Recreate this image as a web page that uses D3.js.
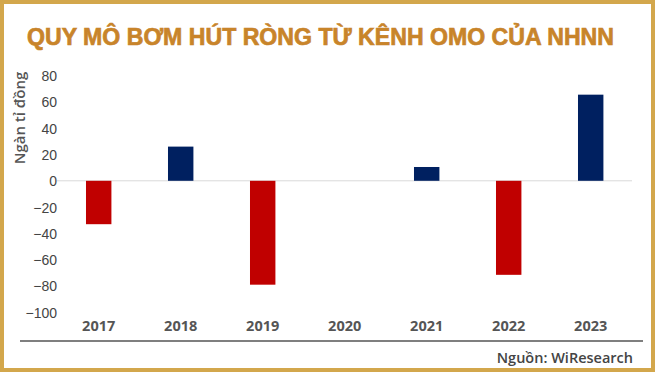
<!DOCTYPE html>
<html><head><meta charset="utf-8">
<script src="https://cdn.jsdelivr.net/npm/d3@7"></script>
<style>body{margin:0;background:#fff}svg{display:block}</style>
</head><body>
<script>
const categories = ["2017","2018","2019","2020","2021","2022","2023"];
const values = [-33, 26, -79, 0, 10.5, -71.5, 65.5];
const yTicks = [80,60,40,20,0,-20,-40,-60,-80,-100];
const title = "QUY MÔ BƠM HÚT RÒNG TỪ KÊNH OMO CỦA NHNN";
const yTitle = "Ngàn tỉ đồng";
const source = "Nguồn: WiResearch";

const W = 655, H = 372;
const svg = d3.select("body").append("svg").attr("width", W).attr("height", H);

svg.append("rect").attr("x",0).attr("y",0).attr("width",W).attr("height",H).attr("fill","#fff");
svg.append("rect").attr("x",2).attr("y",2).attr("width",W-4).attr("height",H-4)
  .attr("fill","none").attr("stroke","#D3A74C").attr("stroke-width",4);

svg.append("text").attr("x",27).attr("y",45).text(title)
  .attr("font-family","'Liberation Sans Narrow','Liberation Sans',sans-serif")
  .attr("font-weight","bold").attr("font-size",23.5).attr("fill","#C8842A")
  .attr("stroke","#C8842A").attr("stroke-width",0.7)
  .attr("textLength",587).attr("lengthAdjust","spacingAndGlyphs");

const x = d3.scaleBand().domain(categories).range([57.7, 631.7]).paddingInner(0.69).paddingOuter(0.345);
const y = d3.scaleLinear().domain([-100, 80]).range([312.3, 75.6]);

// zero line
svg.append("line").attr("x1",57).attr("x2",632).attr("y1",y(0)).attr("y2",y(0))
  .attr("stroke","#D9D9D9").attr("stroke-width",1);

svg.append("g").selectAll("rect").data(categories.map((c,i)=>({c,v:values[i]})).filter(d=>d.v!==0))
  .join("rect")
  .attr("x",d=>x(d.c)).attr("width",x.bandwidth())
  .attr("y",d=>y(Math.max(0,d.v))).attr("height",d=>Math.abs(y(d.v)-y(0)))
  .attr("fill",d=>d.v<0?"#C00000":"#002060");

// y axis
const yAxis = d3.axisLeft(y).tickValues(yTicks).tickSize(0).tickPadding(0);
const gy = svg.append("g").attr("transform","translate(57,0)").call(yAxis);
gy.select(".domain").remove();
gy.selectAll("text").attr("font-family","'Liberation Sans Narrow','Liberation Sans',sans-serif")
  .attr("font-size",14).attr("fill","#444").attr("dy","0.35em");

// x axis labels
const xAxis = d3.axisBottom(x).tickSize(0).tickPadding(0);
const gx = svg.append("g").attr("transform","translate(0,320)").call(xAxis);
gx.select(".domain").remove();
gx.selectAll("text").attr("font-family","'Open Sans',sans-serif").attr("font-weight","bold")
  .attr("font-size",14.5).attr("fill","#555").attr("dy","0.35em").attr("y",6);

// y title
svg.append("text").attr("transform","translate(25,118) rotate(-90)").attr("text-anchor","middle")
  .attr("font-family","'Open Sans',sans-serif").attr("font-weight","600").attr("font-size",15)
  .attr("fill","#555").text(yTitle);

// bottom rule
svg.append("line").attr("x1",20).attr("x2",643).attr("y1",341).attr("y2",341)
  .attr("stroke","#555").attr("stroke-width",1.5);

svg.append("text").attr("x",633).attr("y",363).attr("text-anchor","end")
  .attr("font-family","'Open Sans',sans-serif").attr("font-weight","600").attr("font-size",14.5)
  .attr("fill","#444").text(source);
</script>
</body></html>
